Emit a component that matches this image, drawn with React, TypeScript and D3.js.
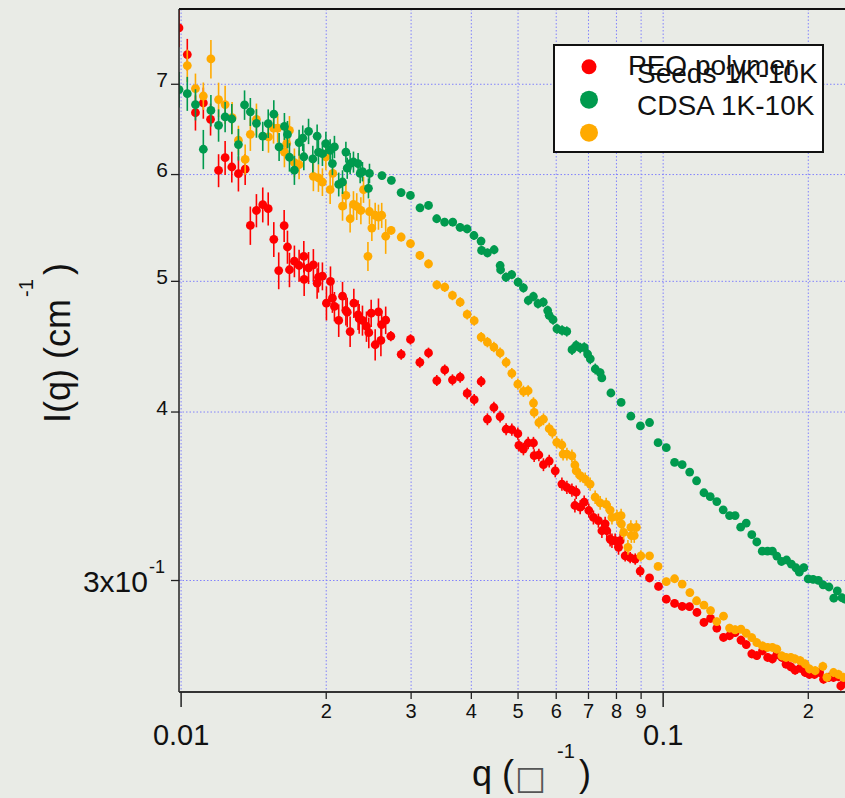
import React from 'react';
import * as d3 from 'd3';

const W = 845;
const H = 798;
const FONT = "'Liberation Sans', Arial, Helvetica, sans-serif";

// [q (1/Å), I(q) (1/cm), error]
const redSeries: [number, number, number][] = [
  [0.00990,0.7707,0.025],[0.01030,0.7364,0.020],[0.01071,0.6668,0.020],[0.01112,0.6780,0.018],
  [0.01151,0.6593,0.018],[0.01196,0.6042,0.017],[0.01234,0.6175,0.018],[0.01274,0.6078,0.016],
  [0.01315,0.6009,0.018],[0.01358,0.6055,0.016],[0.01392,0.5501,0.018],[0.01433,0.5643,0.016],
  [0.01477,0.5699,0.017],[0.01516,0.5660,0.016],[0.01557,0.5372,0.016],[0.01594,0.5093,0.016],
  [0.01636,0.5498,0.015],[0.01662,0.5302,0.015],[0.01678,0.5100,0.015],[0.01718,0.5175,0.014],
  [0.01757,0.5137,0.014],[0.01797,0.5217,0.014],[0.01800,0.5016,0.014],[0.01838,0.5117,0.014],
  [0.01881,0.5143,0.014],[0.01915,0.4984,0.013],[0.01927,0.5035,0.013],[0.01964,0.5044,0.012],
  [0.02002,0.4817,0.014],[0.02041,0.4999,0.013],[0.02060,0.4858,0.012],[0.02080,0.4790,0.012],
  [0.02123,0.4677,0.013],[0.02162,0.4875,0.012],[0.02197,0.4757,0.012],[0.02211,0.4743,0.012],
  [0.02242,0.4589,0.012],[0.02282,0.4817,0.012],[0.02329,0.4722,0.012],[0.02341,0.4691,0.012],
  [0.02378,0.4677,0.012],[0.02424,0.4629,0.012],[0.02451,0.4580,0.012],[0.02479,0.4735,0.011],
  [0.02527,0.4487,0.012],[0.02567,0.4746,0.011],[0.02597,0.4520,0.012],[0.02606,0.4644,0.011],
  [0.02657,0.4679,0.011],
  [0.02723,0.4553,0.004],[0.02861,0.4414,0.004],[0.02991,0.4528,0.004],[0.03128,0.4354,0.004],
  [0.03260,0.4425,0.004],[0.03392,0.4221,0.004],[0.03523,0.4298,0.004],[0.03655,0.4226,0.004],
  [0.03792,0.4245,0.004],[0.03921,0.4129,0.004],[0.04055,0.4085,0.004],[0.04192,0.4214,0.004],
  [0.04319,0.3951,0.004],[0.04455,0.4031,0.004],[0.04589,0.3969,0.004],[0.04723,0.3884,0.004],
  [0.04854,0.3882,0.004],[0.04995,0.3855,0.004],[0.05020,0.3779,0.004],[0.05130,0.3755,0.004],
  [0.05247,0.3794,0.004],[0.05382,0.3794,0.004],[0.05400,0.3713,0.004],[0.05523,0.3717,0.004],
  [0.05645,0.3656,0.004],[0.05802,0.3679,0.004],[0.05972,0.3618,0.004],[0.06165,0.3537,0.004],
  [0.06314,0.3517,0.004],[0.06467,0.3501,0.004],[0.06560,0.3410,0.004],[0.06600,0.3488,0.004],
  [0.06727,0.3400,0.004],[0.06857,0.3429,0.004],[0.07010,0.3381,0.004],[0.07167,0.3341,0.004],
  [0.07339,0.3323,0.004],[0.07462,0.3266,0.004],[0.07580,0.3305,0.004],[0.07640,0.3266,0.004],
  [0.07762,0.3220,0.004],[0.07830,0.3211,0.004],[0.07950,0.3211,0.004],[0.08080,0.3175,0.004],
  [0.08143,0.3211,0.004],[0.08340,0.3129,0.003],[0.08542,0.3120,0.003],[0.08750,0.3112,0.003],
  [0.08960,0.3049,0.003],[0.09370,0.3013,0.002],[0.09780,0.2970,0.002],[0.1015,0.2906,0.002],
  [0.1056,0.2885,0.002],[0.1095,0.2870,0.002],[0.1134,0.2869,0.002],[0.1175,0.2841,0.002],
  [0.1215,0.2793,0.002],[0.1254,0.2812,0.002],[0.1292,0.2766,0.002],[0.1334,0.2722,0.002],
  [0.1373,0.2730,0.002],[0.1410,0.2745,0.002],[0.1450,0.2710,0.002],[0.1487,0.2689,0.002],
  [0.1527,0.2647,0.002],[0.1564,0.2639,0.002],[0.1607,0.2661,0.002],[0.1647,0.2631,0.002],
  [0.1685,0.2624,0.002],[0.1721,0.2643,0.002],[0.1763,0.2631,0.002],[0.1798,0.2601,0.002],
  [0.1840,0.2589,0.002],[0.1878,0.2574,0.002],[0.1924,0.2583,0.002],[0.1970,0.2564,0.002],
  [0.2011,0.2556,0.002],[0.2060,0.2556,0.002],[0.2111,0.2564,0.002],[0.2151,0.2535,0.002],
  [0.2205,0.2543,0.002],[0.2256,0.2543,0.002],[0.2310,0.2546,0.002],[0.2336,0.2506,0.002],
  [0.2385,0.2520,0.002],
];

const orangeSeries: [number, number, number][] = [
  [0.01030,0.7227,0.020],[0.01071,0.6949,0.018],[0.01112,0.6861,0.016],[0.01153,0.7309,0.024],
  [0.01196,0.6819,0.020],[0.01234,0.6761,0.022],[0.01276,0.6612,0.018],[0.01315,0.6362,0.016],
  [0.01358,0.6157,0.016],[0.01392,0.6427,0.018],[0.01433,0.6593,0.018],[0.01518,0.6398,0.017],
  [0.01555,0.6496,0.017],[0.01586,0.6496,0.016],[0.01638,0.6235,0.016],[0.01656,0.6326,0.016],
  [0.01678,0.6470,0.016],[0.01718,0.6123,0.015],[0.01757,0.6103,0.015],[0.01881,0.5982,0.015],
  [0.01927,0.5965,0.014],[0.01964,0.5924,0.014],[0.01997,0.6185,0.014],[0.02038,0.5847,0.014],
  [0.02064,0.6012,0.014],[0.02162,0.5685,0.014],[0.02197,0.5790,0.013],[0.02242,0.5564,0.013],
  [0.02278,0.5702,0.013],[0.02314,0.5682,0.013],[0.02360,0.5643,0.013],[0.02390,0.5847,0.013],
  [0.02441,0.5218,0.013],[0.02459,0.5633,0.012],[0.02487,0.5476,0.012],[0.02527,0.5597,0.012],
  [0.02567,0.5580,0.012],[0.02607,0.5597,0.012],[0.02657,0.5400,0.016],
  [0.02727,0.5454,0.004],[0.02861,0.5393,0.004],[0.02991,0.5333,0.004],[0.03128,0.5226,0.004],
  [0.03260,0.5152,0.004],[0.03392,0.4970,0.004],[0.03523,0.4950,0.004],[0.03655,0.4881,0.004],
  [0.03792,0.4825,0.004],[0.03921,0.4725,0.004],[0.04055,0.4675,0.004],[0.04192,0.4546,0.004],
  [0.04319,0.4507,0.004],[0.04455,0.4469,0.004],[0.04589,0.4425,0.004],[0.04723,0.4354,0.004],
  [0.04854,0.4273,0.004],[0.04995,0.4195,0.004],[0.05130,0.4144,0.004],[0.05247,0.4148,0.004],
  [0.05382,0.4062,0.004],[0.05400,0.3997,0.004],[0.05523,0.3929,0.004],[0.05645,0.3951,0.004],
  [0.05802,0.3888,0.004],[0.05891,0.3863,0.004],[0.06015,0.3798,0.004],[0.06165,0.3781,0.004],
  [0.06200,0.3723,0.004],[0.06314,0.3723,0.004],[0.06467,0.3712,0.004],[0.06560,0.3654,0.004],
  [0.06600,0.3618,0.004],[0.06727,0.3588,0.004],[0.06890,0.3567,0.004],[0.07055,0.3537,0.004],
  [0.07226,0.3459,0.004],[0.07401,0.3425,0.004],[0.07616,0.3416,0.004],[0.07762,0.3383,0.004],
  [0.07830,0.3341,0.004],[0.08020,0.3345,0.004],[0.08180,0.3351,0.004],[0.08190,0.3304,0.004],
  [0.08280,0.3257,0.004],[0.08450,0.3175,0.004],[0.08570,0.3285,0.004],[0.08590,0.3239,0.004],
  [0.08710,0.3239,0.004],[0.08800,0.3285,0.004],[0.08990,0.3129,0.003],[0.09370,0.3129,0.002],
  [0.09760,0.3073,0.002],[0.1015,0.2994,0.002],[0.1056,0.3009,0.002],[0.1095,0.2982,0.002],
  [0.1136,0.2939,0.002],[0.1173,0.2898,0.002],[0.1215,0.2877,0.002],[0.1254,0.2850,0.002],
  [0.1292,0.2797,0.002],[0.1334,0.2823,0.002],[0.1373,0.2766,0.002],[0.1410,0.2758,0.002],
  [0.1450,0.2761,0.002],[0.1487,0.2742,0.002],[0.1527,0.2721,0.002],[0.1564,0.2698,0.002],
  [0.1607,0.2683,0.002],[0.1647,0.2676,0.002],[0.1685,0.2676,0.002],[0.1721,0.2668,0.002],
  [0.1763,0.2638,0.002],[0.1798,0.2631,0.002],[0.1840,0.2631,0.002],[0.1878,0.2624,0.002],
  [0.1924,0.2616,0.002],[0.1970,0.2602,0.002],[0.2011,0.2580,0.002],[0.2067,0.2572,0.002],
  [0.2144,0.2591,0.002],[0.2186,0.2543,0.002],[0.2256,0.2564,0.002],[0.2310,0.2556,0.002],
  [0.2366,0.2543,0.002],
];

const greenSeries: [number, number, number][] = [
  [0.00990,0.6937,0.021],[0.01030,0.6889,0.020],[0.01071,0.6761,0.018],[0.01112,0.6265,0.021],
  [0.01153,0.6694,0.018],[0.01196,0.6526,0.018],[0.01234,0.6620,0.017],[0.01274,0.6597,0.017],
  [0.01315,0.6315,0.017],[0.01354,0.6757,0.017],[0.01392,0.6678,0.016],[0.01433,0.6549,0.016],
  [0.01477,0.6406,0.016],[0.01516,0.6546,0.016],[0.01557,0.6652,0.016],[0.01597,0.6290,0.015],
  [0.01638,0.6515,0.015],[0.01662,0.6425,0.015],[0.01678,0.6180,0.015],[0.01718,0.6045,0.015],
  [0.01757,0.6337,0.014],[0.01788,0.6385,0.014],[0.01797,0.6185,0.014],[0.01838,0.6460,0.014],
  [0.01876,0.6162,0.014],[0.01915,0.6406,0.013],[0.01927,0.6235,0.013],[0.01964,0.6218,0.013],
  [0.01997,0.6326,0.013],[0.02038,0.6254,0.012],[0.02060,0.6114,0.012],[0.02080,0.6290,0.012],
  [0.02123,0.5900,0.012],[0.02162,0.5924,0.012],[0.02197,0.6235,0.011],[0.02211,0.6066,0.011],
  [0.02242,0.6114,0.011],[0.02278,0.6130,0.011],[0.02329,0.6114,0.011],[0.02352,0.6012,0.010],
  [0.02378,0.6030,0.010],[0.02447,0.5861,0.010],[0.02459,0.6012,0.010],
  [0.0261,0.5990,0.004],[0.0273,0.5941,0.004],[0.0286,0.5818,0.004],[0.0299,0.5790,0.004],
  [0.0313,0.5669,0.004],[0.0326,0.5692,0.004],[0.0339,0.5564,0.004],[0.0352,0.5532,0.004],
  [0.0366,0.5532,0.004],[0.0379,0.5483,0.004],[0.0392,0.5468,0.004],[0.0405,0.5407,0.004],
  [0.0419,0.5356,0.004],[0.0420,0.5271,0.004],[0.0432,0.5249,0.004],[0.0446,0.5277,0.004],
  [0.0459,0.5137,0.004],[0.0460,0.5100,0.004],[0.0472,0.5035,0.004],[0.0485,0.5058,0.004],
  [0.0500,0.4993,0.004],[0.0513,0.4945,0.004],[0.0525,0.4839,0.004],[0.0538,0.4872,0.004],
  [0.0550,0.4814,0.004],[0.0564,0.4825,0.004],[0.0576,0.4757,0.004],[0.0580,0.4718,0.004],
  [0.0591,0.4683,0.004],[0.0602,0.4611,0.004],[0.0617,0.4598,0.004],[0.0631,0.4590,0.004],
  [0.0647,0.4449,0.004],[0.0660,0.4481,0.004],[0.0673,0.4462,0.004],[0.0686,0.4466,0.004],
  [0.0697,0.4416,0.004],[0.0706,0.4380,0.004],[0.0723,0.4305,0.004],[0.0740,0.4279,0.003],
  [0.0746,0.4240,0.003],[0.0779,0.4132,0.002],[0.0818,0.4066,0.002],[0.0857,0.3972,0.002],
  [0.0897,0.3906,0.002],[0.0937,0.3929,0.002],[0.0976,0.3796,0.002],[0.1015,0.3764,0.002],
  [0.1056,0.3670,0.002],[0.1095,0.3656,0.002],[0.1135,0.3610,0.002],[0.1173,0.3557,0.002],
  [0.1215,0.3485,0.002],[0.1252,0.3462,0.002],[0.1292,0.3433,0.002],[0.1332,0.3385,0.002],
  [0.1373,0.3352,0.002],[0.1410,0.3352,0.002],[0.1448,0.3286,0.002],[0.1487,0.3309,0.002],
  [0.1527,0.3244,0.002],[0.1564,0.3204,0.002],[0.1605,0.3154,0.002],[0.1646,0.3154,0.002],
  [0.1685,0.3154,0.002],[0.1721,0.3128,0.002],[0.1760,0.3099,0.002],[0.1803,0.3107,0.002],
  [0.1845,0.3085,0.002],[0.1886,0.3066,0.002],[0.1916,0.3043,0.002],[0.1958,0.3067,0.002],
  [0.1999,0.3008,0.002],[0.2047,0.3006,0.002],[0.2099,0.3001,0.002],[0.2147,0.2978,0.002],
  [0.2208,0.2967,0.002],[0.2259,0.2911,0.002],[0.2297,0.2947,0.002],[0.2348,0.2913,0.002],
  [0.2385,0.2906,0.002],
];

const xMinorTicks = [0.02, 0.03, 0.04, 0.05, 0.06, 0.07, 0.08, 0.09, 0.2];
const xMinorLabels = ['2', '3', '4', '5', '6', '7', '8', '9', '2'];
const xMajorTicks = [0.01, 0.1];
const xMajorLabels = ['0.01', '0.1'];
const yTicks = [0.3, 0.4, 0.5, 0.6, 0.7];
const yTickLabels = ['3', '4', '5', '6', '7'];

const RED = '#ff0000';
const GREEN = '#009a4e';
const ORANGE = '#ffaa00';
const BG = '#e9ebe6';
const GRID = '#7878ff';

const plot = { left: 179, top: 9, right: 855, bottom: 692 };

function Series({ data, color, x, y }: any) {
  return (
    <g>
      {data.map((d: [number, number, number], i: number) => (
        <line key={'e' + i} x1={x(d[0])} x2={x(d[0])} y1={y(d[1] + d[2])} y2={y(Math.max(d[1] - d[2], 0.2))}
          stroke={color} strokeWidth={1.6} />
      ))}
      {data.map((d: [number, number, number], i: number) => (
        <circle key={'c' + i} cx={x(d[0])} cy={y(d[1])} r={4.4} fill={color} />
      ))}
    </g>
  );
}

export default function App() {
  const x = d3.scaleLog().domain([0.0099, 0.25]).range([plot.left, plot.right]);
  const y = d3.scaleLog().domain([0.248, 0.796]).range([plot.bottom, plot.top]);
  const allXGrid = [...xMajorTicks, ...xMinorTicks];

  return (
    <svg width={W} height={H} style={{ position: 'absolute', left: 0, top: 0, display: 'block' }}
      fontFamily={FONT}>
      <defs>
        <clipPath id="plotClip">
          <rect x={plot.left} y={plot.top} width={plot.right - plot.left} height={plot.bottom - plot.top} />
        </clipPath>
      </defs>
      <rect x={0} y={0} width={W} height={H} fill={BG} />

      {/* grid */}
      <g stroke={GRID} strokeWidth={1} strokeDasharray="1.5,2" opacity={0.9}>
        {allXGrid.map((t, i) => (
          <line key={'gx' + i} x1={x(t)} x2={x(t)} y1={plot.top} y2={plot.bottom} />
        ))}
        {yTicks.map((t, i) => (
          <line key={'gy' + i} x1={plot.left} x2={plot.right} y1={y(t)} y2={y(t)} />
        ))}
      </g>

      {/* data */}
      <g clipPath="url(#plotClip)">
        <Series data={redSeries} color={RED} x={x} y={y} />
        <Series data={orangeSeries} color={ORANGE} x={x} y={y} />
        <Series data={greenSeries} color={GREEN} x={x} y={y} />
      </g>

      {/* axes */}
      <line x1={plot.left} x2={plot.right} y1={plot.top} y2={plot.top} stroke="#111" strokeWidth={2} />
      <line x1={plot.left} x2={plot.left} y1={plot.top} y2={plot.bottom} stroke="#222" strokeWidth={1.5} />
      <line x1={plot.left} x2={plot.right} y1={plot.bottom} y2={plot.bottom} stroke="#333" strokeWidth={2} />

      {/* x ticks */}
      {xMinorTicks.map((t, i) => (
        <g key={'xt' + i}>
          <line x1={x(t)} x2={x(t)} y1={plot.bottom} y2={plot.bottom + 7} stroke="#222" strokeWidth={1.3} />
          <text x={x(t)} y={718} fontSize={20} textAnchor="middle" fill="#111">{xMinorLabels[i]}</text>
        </g>
      ))}
      {xMajorTicks.map((t, i) => (
        <g key={'xM' + i}>
          <line x1={x(t)} x2={x(t)} y1={plot.bottom} y2={plot.bottom + 15} stroke="#222" strokeWidth={1.5} />
          <text x={x(t)} y={745} fontSize={29} textAnchor="middle" fill="#111">{xMajorLabels[i]}</text>
        </g>
      ))}

      {/* y ticks */}
      {yTicks.map((t, i) => (
        <g key={'yt' + i}>
          <line x1={plot.left - 8} x2={plot.left} y1={y(t)} y2={y(t)} stroke="#222" strokeWidth={1.3} />
          {i === 0 ? (
            <g>
              <text x={148} y={y(t) + 11} fontSize={30} textAnchor="end" fill="#111">{yTickLabels[i] + 'x10'}</text>
              <text x={149} y={y(t) - 8} fontSize={18} textAnchor="start" fill="#111">-1</text>
            </g>
          ) : (
            <text x={168} y={y(t) + 2.5} fontSize={21} textAnchor="end" fill="#111">{yTickLabels[i]}</text>
          )}
        </g>
      ))}

      {/* x title */}
      <text x={472} y={786} fontSize={36} fill="#111">q (</text>
      <text x={515} y={789} fontSize={33} fill="#555" fontFamily="'DejaVu Sans', sans-serif">□</text>
      <text x={557} y={758} fontSize={20} fill="#111">-1</text>
      <text x={579} y={786} fontSize={36} fill="#111">)</text>

      {/* y title */}
      <g transform="translate(70,423) rotate(-90)">
        <text x={0} y={0} fontSize={36} fill="#111">I(q) (cm</text>
        <text x={126} y={-37} fontSize={20} fill="#111">-1</text>
        <text x={148} y={0} fontSize={36} fill="#111">)</text>
      </g>

      {/* legend */}
      <rect x={554} y={45} width={269} height={107} fill="#ffffff" stroke="#111" strokeWidth={2} />
      <circle cx={589} cy={66.7} r={7.5} fill={RED} />
      <circle cx={589} cy={99.7} r={9} fill={GREEN} />
      <circle cx={589} cy={132.7} r={9} fill={ORANGE} />
      <text x={628} y={75} fontSize={28} fill="#111">PEO polymer</text>
      <text x={637} y={83} fontSize={28} fill="#111">Seeds 1K-10K</text>
      <text x={637} y={115} fontSize={28} fill="#111">CDSA 1K-10K</text>
    </svg>
  );
}
